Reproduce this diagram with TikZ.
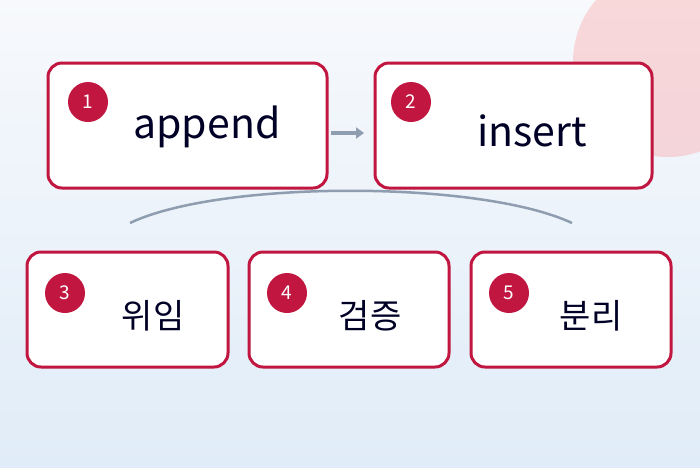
\documentclass[tikz,border=0pt]{standalone}
\usepackage{fontspec}
\setmainfont{Noto Sans CJK KR}
\usetikzlibrary{arrows.meta}
\definecolor{crimson}{HTML}{C0163F}
\definecolor{arcgray}{HTML}{8E9DB0}
\definecolor{bgtop}{HTML}{F7F9FC}
\definecolor{bgbot}{HTML}{E0ECF8}
\begin{document}
\begin{tikzpicture}[x=1pt,y=-1pt,
    card/.style={draw=crimson,line width=3pt,fill=white,rounded corners=14pt},
    badge/.style={circle,fill=crimson,text=white,minimum size=40pt,inner sep=0pt,font=\fontsize{19}{19}\selectfont},
    word/.style={font=\fontsize{41}{41}\selectfont,text=black!85!blue},
    hangul/.style={font=\fontsize{34}{34}\selectfont,text=black!85!blue}]
  \shade[top color=bgtop,bottom color=bgbot] (0,0) rectangle (700,467);
  \useasboundingbox (0,0) rectangle (700,467);
  \begin{scope}
    \clip (0,0) rectangle (700,467);
    \fill[red!45!white,opacity=0.3] (668,62) circle (95);
  \end{scope}
  % upper row
  \draw[card] (48,63) rectangle (327,188);
  \draw[card] (375,63) rectangle (652,188);
  \node[badge] (b1) at (88,102) {1};
  \node[badge] (b2) at (411,102) {2};
  \node[word] (append) at (207,127) {append};
  \node[word] (insert) at (532,131) {insert};
  \coordinate (ar1) at (331,133);
  \coordinate (ar2) at (364,133);
  \draw[arcgray,line width=3.5pt,-{Triangle[length=8pt,width=11pt]}] (ar1) -- (ar2);
  % arc
  \coordinate (l) at (130,223);
  \coordinate (r) at (572,223);
  \draw[arcgray,line width=2.5pt] (l) .. controls (220,180) and (480,180) .. (r);
  % lower row
  \draw[card] (27,252) rectangle (228,367);
  \draw[card] (249,252) rectangle (449,367);
  \draw[card] (471,252) rectangle (671,367);
  \node[badge] (b3) at (65,293) {3};
  \node[badge] (b4) at (287,293) {4};
  \node[badge] (b5) at (509,293) {5};
  \node[hangul] (w3) at (153,316) {위임};
  \node[hangul] (w4) at (370,316) {검증};
  \node[hangul] (w5) at (591,316) {분리};
\end{tikzpicture}
\end{document}
